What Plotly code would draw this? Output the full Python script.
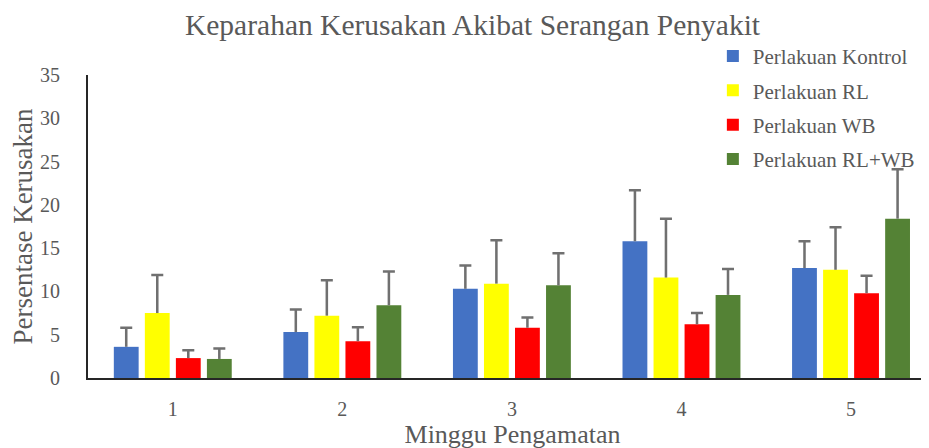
import plotly.graph_objects as go

weeks = [1, 2, 3, 4, 5]
week_labels = ["1", "2", "3", "4", "5"]

series_names = ["Perlakuan Kontrol", "Perlakuan RL", "Perlakuan WB", "Perlakuan RL+WB"]
kontrol = [3.6, 5.3, 10.3, 15.8, 12.7]
kontrol_err = [2.2, 2.6, 2.7, 5.9, 3.1]
rl = [7.5, 7.2, 10.9, 11.6, 12.5]
rl_err = [4.4, 4.1, 5.0, 6.8, 4.9]
wb = [2.3, 4.25, 5.8, 6.2, 9.8]
wb_err = [0.9, 1.6, 1.2, 1.3, 2.0]
rlwb = [2.2, 8.4, 10.7, 9.6, 18.4]
rlwb_err = [1.2, 3.9, 3.7, 3.0, 5.7]

colors = ["#4472C4", "#FFFF00", "#FF0000", "#548235"]
values = [kontrol, rl, wb, rlwb]
errors = [kontrol_err, rl_err, wb_err, rlwb_err]

FONT = "Liberation Serif"
GREY = "#595959"
ERR = "#707070"

fig = go.Figure()
for i, (name, v, e, c) in enumerate(zip(series_names, values, errors, colors)):
    fig.add_trace(go.Bar(
        x=weeks, y=v, name=name, marker=dict(color=c, line=dict(width=0)),
        legendgroup=str(i), offsetgroup=str(i),
    ))
# error bars (upper only): thin stem from the bar top plus a cap
for i, (v, e) in enumerate(zip(values, errors)):
    fig.add_trace(go.Bar(
        x=weeks, y=e, base=v, width=0.015, showlegend=False, hoverinfo="skip",
        marker=dict(color=ERR, line=dict(width=0)),
        legendgroup=str(i), offsetgroup=str(i),
        error_y=dict(type="data", array=[0]*len(e), arrayminus=[0]*len(e), symmetric=False,
                     color=ERR, thickness=2.5, width=6),
    ))

fig.update_layout(
    width=929, height=448,
    margin=dict(l=80, r=0, t=67, b=78, autoexpand=False),
    paper_bgcolor="white", plot_bgcolor="white",
    barmode="group", bargap=0.268, bargroupgap=0.2,
    font=dict(family=FONT, color=GREY, size=20),
    title=dict(text="Keparahan Kerusakan Akibat Serangan Penyakit", x=0.5, xanchor="center",
               y=0.963, yanchor="middle", font=dict(family=FONT, size=29.5, color=GREY)),
    legend=dict(x=0.736, y=1.129, xanchor="left", yanchor="top", tracegroupgap=4,
                font=dict(family=FONT, size=21, color=GREY), bgcolor="rgba(0,0,0,0)",
                itemwidth=30),
    showlegend=True,
)
fig.update_xaxes(
    range=[0.5, 5.507], tickmode="array", tickvals=weeks, ticktext=week_labels,
    showline=True, linecolor="#262626", linewidth=2, showgrid=False, zeroline=False,
    ticks="", ticklabelstandoff=12, automargin=False,
    title=dict(text="Minggu Pengamatan", font=dict(family=FONT, size=26, color=GREY), standoff=6),
)
fig.update_yaxes(
    range=[0, 35], tickvals=[0, 5, 10, 15, 20, 25, 30, 35],
    showline=True, linecolor="#262626", linewidth=2, showgrid=False, zeroline=False,
    ticks="", ticklabelstandoff=22, automargin=False,
    title=dict(text="Persentase Kerusakan", font=dict(family=FONT, size=27, color=GREY), standoff=10),
)

fig.write_html("out.html")
